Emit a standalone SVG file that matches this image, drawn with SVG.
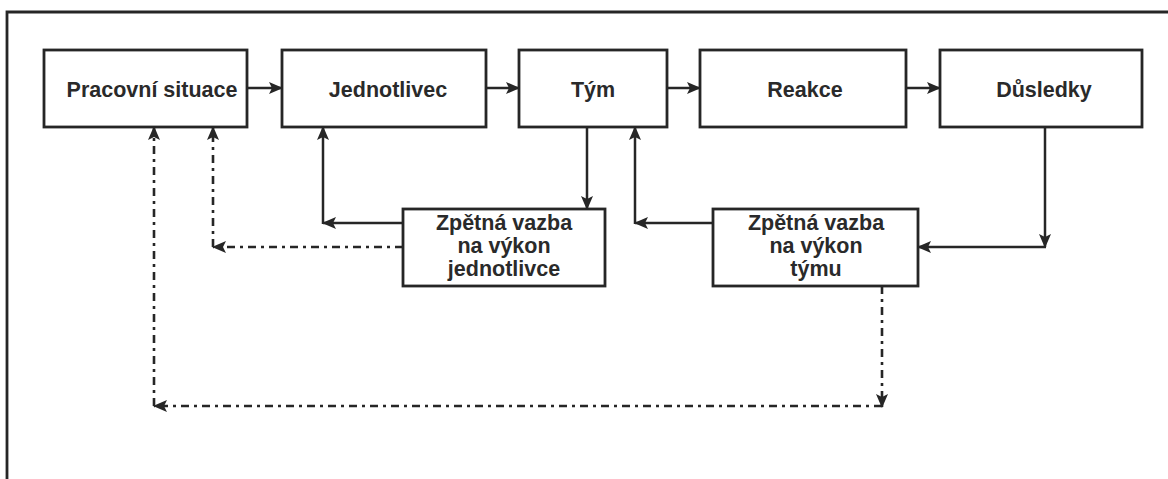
<svg xmlns="http://www.w3.org/2000/svg" width="1168" height="479" viewBox="0 0 1168 479">
  <defs>
    <style>
      .box { fill: #ffffff; stroke: #262626; stroke-width: 2.8; }
      .lbl { font-family: "Liberation Sans", Arial, sans-serif; font-weight: bold; font-size: 21.5px; fill: #2a2a2a; text-anchor: middle; }
      .solid { fill: none; stroke: #262626; stroke-width: 2.5; }
      .dashdot { fill: none; stroke: #262626; stroke-width: 2.6; stroke-dasharray: 8 5 3 5; }
      .frame { fill: none; stroke: #262626; stroke-width: 2.8; }
    </style>
    <marker id="head" viewBox="0 0 14 12" refX="13" refY="6" markerWidth="14" markerHeight="12" markerUnits="userSpaceOnUse" orient="auto">
      <path d="M0,0 L14,6 L0,12 L3,6 Z" fill="#262626"/>
    </marker>
  </defs>

  <rect width="1168" height="479" fill="#ffffff"/>

  <!-- page frame: top and left rules -->
  <path class="frame" d="M7,479 V12 H1168"/>

  <!-- process row -->
  <g id="pracovni-situace">
    <rect class="box" x="44" y="50" width="203" height="77"/>
    <text class="lbl" x="152" y="97">Pracovní situace</text>
  </g>
  <g id="jednotlivec">
    <rect class="box" x="282" y="50" width="204" height="77"/>
    <text class="lbl" x="388" y="97">Jednotlivec</text>
  </g>
  <g id="tym">
    <rect class="box" x="519" y="50" width="148" height="77"/>
    <text class="lbl" x="593" y="97">Tým</text>
  </g>
  <g id="reakce">
    <rect class="box" x="700" y="50" width="206" height="77"/>
    <text class="lbl" x="805" y="97">Reakce</text>
  </g>
  <g id="dusledky">
    <rect class="box" x="940" y="50" width="202" height="77"/>
    <text class="lbl" x="1044" y="97">Důsledky</text>
  </g>

  <!-- feedback boxes -->
  <g id="zpetna-vazba-jednotlivce">
    <rect class="box" x="403" y="209" width="202" height="77"/>
    <text class="lbl" x="504" y="230">Zpětná vazba</text>
    <text class="lbl" x="504" y="253">na výkon</text>
    <text class="lbl" x="504" y="276">jednotlivce</text>
  </g>
  <g id="zpetna-vazba-tymu">
    <rect class="box" x="713" y="209" width="205" height="77"/>
    <text class="lbl" x="816" y="230">Zpětná vazba</text>
    <text class="lbl" x="816" y="253">na výkon</text>
    <text class="lbl" x="816" y="276">týmu</text>
  </g>

  <!-- connectors -->
  <g id="connectors">
    <!-- main flow -->
    <path class="solid" d="M247,88 H282" marker-end="url(#head)"/>
    <path class="solid" d="M486,88 H519" marker-end="url(#head)"/>
    <path class="solid" d="M667,88 H700" marker-end="url(#head)"/>
    <path class="solid" d="M906,88 H940" marker-end="url(#head)"/>

    <!-- team to individual feedback -->
    <path class="solid" d="M587,127 V209" marker-end="url(#head)"/>

    <!-- individual feedback back to the individual -->
    <path class="solid" d="M403,223 H323" marker-end="url(#head)"/>
    <path class="solid" d="M323,224 V127" marker-end="url(#head)"/>

    <!-- team feedback back to the team -->
    <path class="solid" d="M713,223 H635" marker-end="url(#head)"/>
    <path class="solid" d="M635,224 V127" marker-end="url(#head)"/>

    <!-- consequences to team feedback -->
    <path class="solid" d="M1045,127 V247" marker-end="url(#head)"/>
    <path class="solid" d="M1046,247 H918" marker-end="url(#head)"/>

    <!-- individual feedback to work situation -->
    <path class="dashdot" d="M403,247 H213" marker-end="url(#head)"/>
    <path class="dashdot" d="M213,247 V127" marker-end="url(#head)"/>

    <!-- team feedback to work situation -->
    <path class="dashdot" d="M882,286 V407" marker-end="url(#head)"/>
    <path class="dashdot" d="M882,406 H154" marker-end="url(#head)"/>
    <path class="dashdot" d="M154,406 V127" marker-end="url(#head)"/>
  </g>
</svg>
